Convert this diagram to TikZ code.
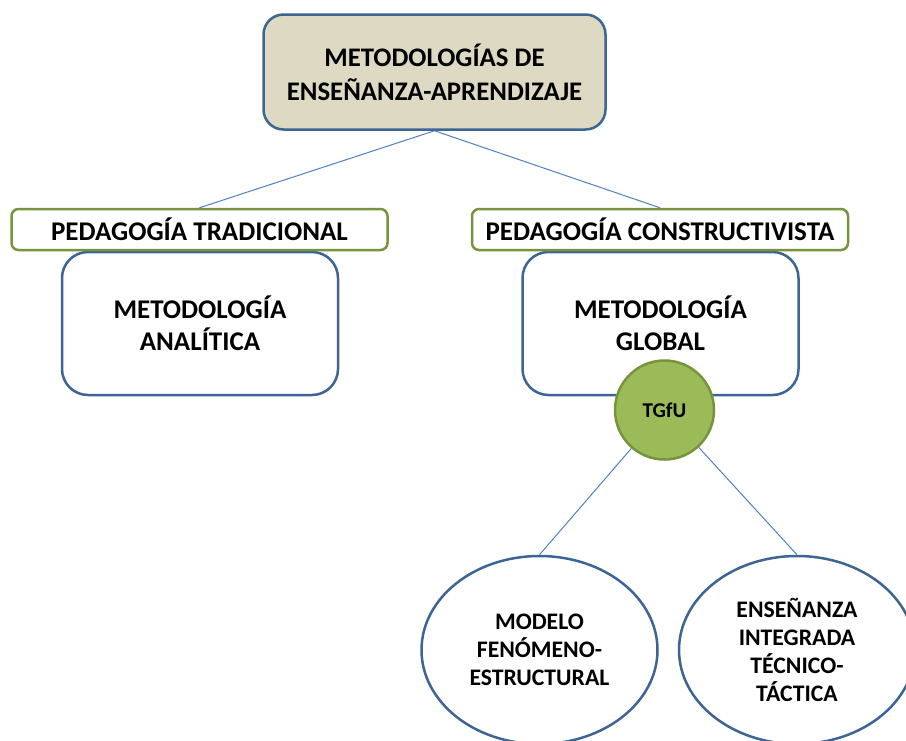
\documentclass[tikz,border=0pt]{standalone}
\usepackage{fontspec}
\setmainfont{Carlito}
\usetikzlibrary{positioning,shapes.geometric}
\definecolor{boxblue}{HTML}{3C6595}
\definecolor{lineblue}{HTML}{4F81BD}
\definecolor{titletan}{HTML}{DDD9C3}
\definecolor{leafgreen}{HTML}{9BBB59}
\definecolor{rimgreen}{HTML}{77933C}

\begin{document}
\begin{tikzpicture}[
    x=1pt, y=-1pt,
    every node/.style={align=center, text=black},
    title/.style={draw=boxblue, fill=titletan, line width=2.5pt, rounded corners=20pt,
        minimum width=342pt, minimum height=115pt, font=\bfseries\fontsize{26.8}{34}\selectfont},
    school/.style={draw=rimgreen, fill=white, line width=2.5pt, rounded corners=7pt,
        minimum width=376pt, minimum height=41pt, inner ysep=0pt, font=\bfseries\fontsize{27}{28}\selectfont},
    method/.style={draw=boxblue, fill=white, line width=2.5pt, rounded corners=26pt,
        minimum width=276pt, minimum height=143pt, font=\bfseries\fontsize{27}{32}\selectfont},
    hub/.style={circle, draw=rimgreen, fill=leafgreen, line width=2.5pt,
        minimum size=99pt, inner sep=0pt, font=\bfseries\fontsize{21}{22}\selectfont},
    model/.style={ellipse, draw=boxblue, fill=white, line width=2.5pt,
        minimum width=236pt, minimum height=188pt, inner sep=0pt, font=\bfseries\fontsize{23.7}{28}\selectfont},
    link/.style={draw=lineblue, line width=1pt}
]
    \useasboundingbox (0,0) rectangle (906,740);
    \clip (0,0) rectangle (906,740);

    % Define nodes
    \node[title] (top) at (434.5,72) {METODOLOGÍAS DE\\ENSEÑANZA-APRENDIZAJE};

    \node[method] (analitica) at (200,323.5) {METODOLOGÍA\\ANALÍTICA};
    \node[method] (global) at (660.5,323.5) {METODOLOGÍA\\GLOBAL};

    \node[school] (tradi) at (199.5,229.5) {PEDAGOGÍA TRADICIONAL};
    \node[school] (constr) at (660,229.5) {PEDAGOGÍA CONSTRUCTIVISTA};

    \node[hub] (tgfu) at (664.5,410) {TGfU};

    \node[model] (fenomeno) at (539.5,650) {MODELO\\FENÓMENO-\\ESTRUCTURAL};
    \node[model] (integrada) at (797,650) {ENSEÑANZA\\INTEGRADA\\TÉCNICO-\\TÁCTICA};

    % Connectors
    \path[link]
        (top.south) -- (tradi.north)
        (top.south) -- (constr.north)
        (tgfu) -- (fenomeno.north)
        (tgfu) -- (integrada.north);
\end{tikzpicture}
\end{document}
